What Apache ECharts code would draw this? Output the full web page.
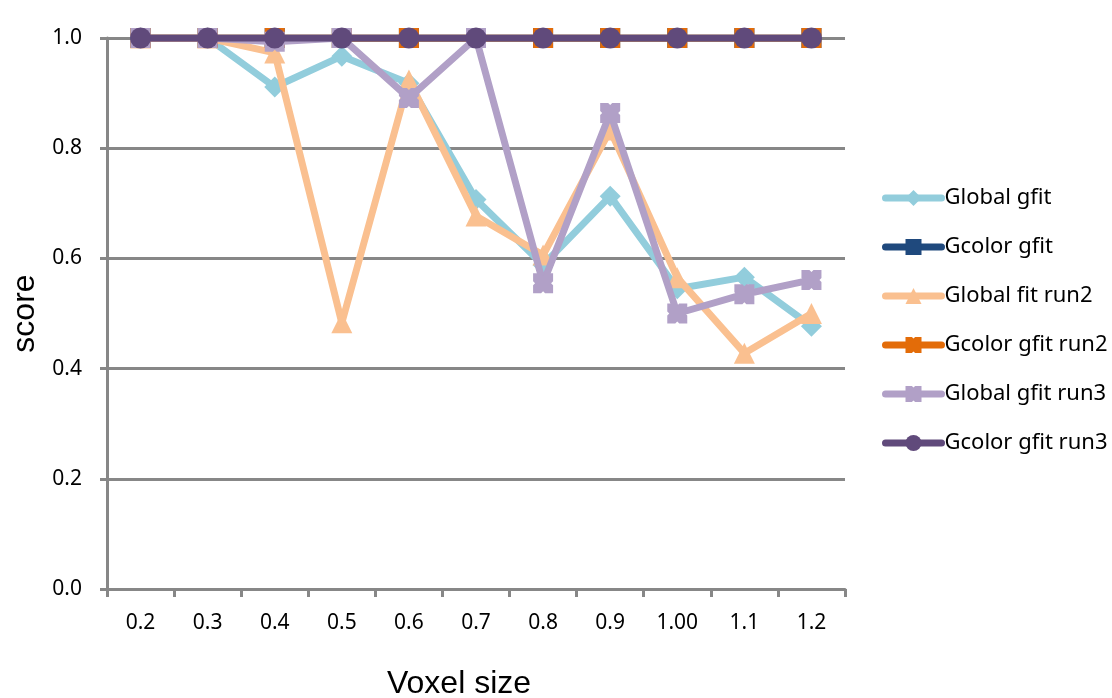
<!DOCTYPE html>
<html><head><meta charset="utf-8">
<script src="https://cdn.jsdelivr.net/npm/echarts@6/dist/echarts.min.js"></script>
<style>html,body{margin:0;padding:0;background:#fff}#c{width:1112px;height:698px}</style>
</head><body><div id="c"></div>
<script>
const categories = ['0.2','0.3','0.4','0.5','0.6','0.7','0.8','0.9','1.00','1.1','1.2'];
const yTicks = [0, 0.2, 0.4, 0.6, 0.8, 1.0];
const globalGfit     = [1.0, 1.0, 0.911, 0.967, 0.918, 0.707, 0.588, 0.713, 0.545, 0.566, 0.477];
const gcolorGfit     = [1.0, 1.0, 1.0, 1.0, 1.0, 1.0, 1.0, 1.0, 1.0, 1.0, 1.0];
const globalFitRun2  = [1.0, 1.0, 0.973, 0.483, 0.924, 0.677, 0.606, 0.833, 0.565, 0.428, 0.5];
const gcolorGfitRun2 = [1.0, 1.0, 1.0, 1.0, 1.0, 1.0, 1.0, 1.0, 1.0, 1.0, 1.0];
const globalGfitRun3 = [1.0, 1.0, 0.993, 1.0, 0.891, 1.0, 0.555, 0.864, 0.5, 0.535, 0.561];
const gcolorGfitRun3 = [1.0, 1.0, 1.0, 1.0, 1.0, 1.0, 1.0, 1.0, 1.0, 1.0, 1.0];

const notched = 'path://M0,0 L4,0 L5,1 L6,0 L10,0 L10,4 L9,5 L10,6 L10,10 L6,10 L5,9 L4,10 L0,10 L0,6 L1,5 L0,4 Z';
const seriesDefs = [
  {name:'Global gfit', data:globalGfit, color:'#92CDDC', symbol:'diamond', size:21},
  {name:'Gcolor gfit', data:gcolorGfit, color:'#1F497D', symbol:'rect', size:20},
  {name:'Global fit run2', data:globalFitRun2, color:'#FAC090', symbol:'triangle', size:21},
  {name:'Gcolor gfit run2', data:gcolorGfitRun2, color:'#E36C09', symbol:notched, size:20},
  {name:'Global gfit run3', data:globalGfitRun3, color:'#B1A0C7', symbol:notched, size:20},
  {name:'Gcolor gfit run3', data:gcolorGfitRun3, color:'#604A7B', symbol:'circle', size:21}
];

const chart = echarts.init(document.getElementById('c'), null, {renderer:'canvas'});
chart.setOption({
  animation:false,
  backgroundColor:'#fff',
  grid:{left:107, right:267, top:38, bottom:109, containLabel:false, outerBoundsMode:'none'},
  legend:{
    orient:'vertical', left:882, top:187, padding:0, itemGap:27, itemWidth:56, itemHeight:20,
    lineStyle:{width:7, cap:'round'},
    textStyle:{fontFamily:'"Noto Sans", "Open Sans", sans-serif', fontSize:22, color:'#000', padding:[0,0,0,-2]},
    data: seriesDefs.map(s=>s.name)
  },
  xAxis:{
    type:'category', data:categories, boundaryGap:true,
    name:'Voxel size', nameLocation:'middle', nameGap:79,
    nameTextStyle:{fontFamily:'"Liberation Sans", Arial, sans-serif', fontSize:32, color:'#000', padding:[0,34,0,0]},
    axisLine:{lineStyle:{color:'#878787', width:3}},
    axisTick:{show:true, inside:false, length:8, lineStyle:{color:'#878787', width:3}},
    axisLabel:{margin:24, fontFamily:'"Noto Sans", "Open Sans", sans-serif', fontSize:21, color:'#000'}
  },
  yAxis:{
    type:'value', min:0, max:1, interval:0.2,
    name:'score', nameLocation:'middle', nameGap:64, nameRotate:90,
    nameTextStyle:{fontFamily:'"Liberation Sans", Arial, sans-serif', fontSize:32, color:'#000'},
    axisLine:{show:true, lineStyle:{color:'#878787', width:3}},
    axisTick:{show:true, length:7, lineStyle:{color:'#878787', width:3}},
    axisLabel:{margin:25, fontFamily:'"Noto Sans", "Open Sans", sans-serif', fontSize:21, color:'#000',
      formatter:v=>yTicks.includes(Math.round(v*10)/10)?v.toFixed(1):''},
    splitLine:{show:true, lineStyle:{color:'#878787', width:3}}
  },
  series: seriesDefs.map((s,i)=>({
    name:s.name, type:'line', data:s.data, symbol:s.symbol, symbolSize:s.size,
    showAllSymbol:true, z:2+i,
    lineStyle:{color:s.color, width:7, cap:'round', join:'round'},
    itemStyle:{color:s.color, borderWidth:0},
    emphasis:{disabled:true}
  }))
});
</script></body></html>
